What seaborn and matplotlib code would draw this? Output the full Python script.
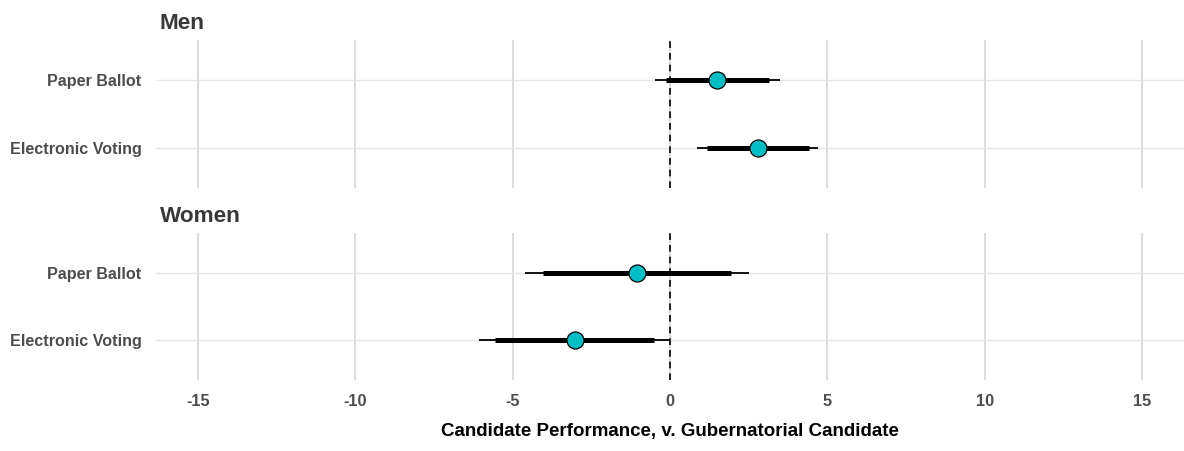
import numpy as np
import pandas as pd
import matplotlib
matplotlib.use("Agg")
import matplotlib.pyplot as plt
import seaborn as sns

# ------------ Data ------------
groups = ["Men", "Men", "Women", "Women"]
methods = ["Paper Ballot", "Electronic Voting", "Paper Ballot", "Electronic Voting"]
estimate = [1.50, 2.79, -1.05, -3.03]
ci95_low = [-0.47, 0.86, -4.61, -6.06]
ci95_high = [3.51, 4.71, 2.50, 0.00]
ci90_low = [-0.13, 1.17, -4.04, -5.57]
ci90_high = [3.16, 4.41, 1.94, -0.51]

method_order = ["Electronic Voting", "Paper Ballot"]  # bottom -> top
x_ticks = [-15, -10, -5, 0, 5, 10, 15]

df = pd.DataFrame({
    "group": groups, "method": methods, "est": estimate,
    "lo95": ci95_low, "hi95": ci95_high, "lo90": ci90_low, "hi90": ci90_high,
})
df["ypos"] = df["method"].map({m: i for i, m in enumerate(method_order)})

sns.set_theme(style="white")
plt.rcParams["font.family"] = ["Liberation Sans", "DejaVu Sans"]

W, H = 1184, 451
fig = plt.figure(figsize=(W / 100, H / 100), dpi=100)

# panel boxes in pixels: (top, bottom)
panels = {"Men": (40, 188), "Women": (233, 380)}
left_px, right_px = 155.5, 1184.5

grey = "#4D4D4D"
for name, (top, bot) in panels.items():
    ax = fig.add_axes([left_px / W, 1 - bot / H, (right_px - left_px) / W, (bot - top) / H])
    sub = df[df["group"] == name]

    # gridlines
    for xt in x_ticks:
        ax.axvline(xt, color="#D6D6D6", lw=1.2, zorder=0)
    for yp in range(len(method_order)):
        ax.axhline(yp, color="#E6E6E6", lw=1.0, zorder=0)
    ax.axvline(0, color="black", lw=1.2, ls=(0, (4, 3)), zorder=1)

    ax.hlines(sub["ypos"], sub["lo95"], sub["hi95"], color="black", lw=1.3, zorder=2)
    ax.hlines(sub["ypos"], sub["lo90"], sub["hi90"], color="black", lw=3.6, zorder=3)
    sns.scatterplot(data=sub, x="est", y="ypos", ax=ax, s=150, color="#00BFC4",
                    edgecolor="black", linewidth=0.9, zorder=4, legend=False)

    ax.set_xlim(-16.35, 16.35)
    ax.set_ylim(-0.59, 1.59)
    ax.set_yticks(range(len(method_order)))
    ax.set_yticklabels(method_order, fontsize=11.6, fontweight="bold", color=grey)
    ax.set_xticks(x_ticks)
    ax.set_ylabel("")
    ax.set_xlabel("")
    ax.tick_params(axis="y", length=0, pad=10)
    ax.tick_params(axis="x", length=0, pad=10)
    for s in ax.spines.values():
        s.set_visible(False)
    ax.set_title(name, loc="left", fontsize=16.2, fontweight="bold", color="#383838",
                 pad=8, x=0.004)
    if name == "Men":
        ax.set_xticklabels([])
    else:
        ax.set_xticklabels([str(t) for t in x_ticks], fontsize=11.8, fontweight="bold", color=grey)
        ax.set_xlabel("Candidate Performance, v. Gubernatorial Candidate",
                      fontsize=13.5, fontweight="bold", color="black", labelpad=10)

fig.savefig("out.png", dpi=100, facecolor="white")
